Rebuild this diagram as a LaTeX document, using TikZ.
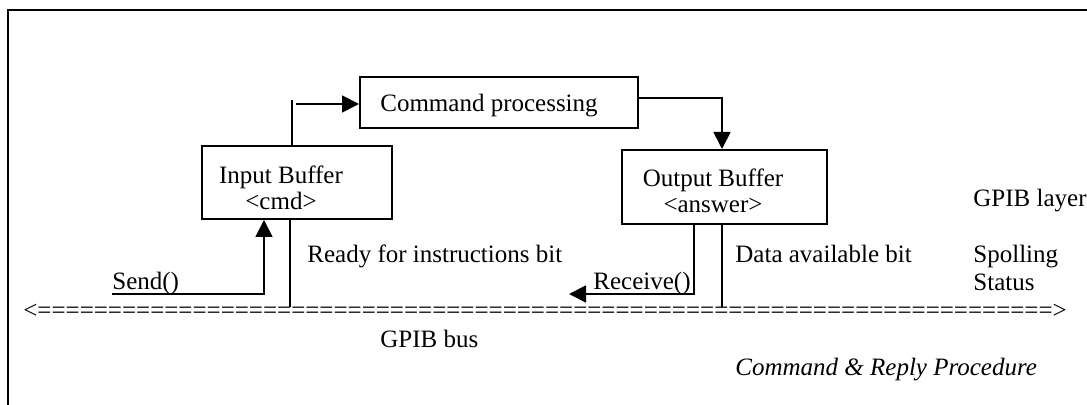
\documentclass[tikz,border=0pt]{standalone}
\usepackage{fontspec}
\setmainfont{Liberation Serif}
\usetikzlibrary{arrows.meta}
\begin{document}
\begin{tikzpicture}[x=0.5pt,y=-0.5pt,
  box/.style={draw,line width=1pt,inner sep=0pt,rectangle},
  txt/.style={inner sep=0pt,font=\fontsize{12.5pt}{13pt}\selectfont},
  ln/.style={line width=0.9pt},
  arr/.style={line width=0.9pt,-{Triangle[length=8.5pt,width=8.5pt]}}]
\useasboundingbox (0,0) rectangle (1087,405);
\draw[line width=0.8pt] (8,405) -- (8,10) -- (1087,10);

% boxes
\node[box,minimum width=95pt,minimum height=36.5pt] (inbuf) at (297,182.5) {};
\node[box,minimum width=139pt,minimum height=25.5pt] (cmdproc) at (499,102.5) {};
\node[box,minimum width=102.5pt,minimum height=37pt] (outbuf) at (724.5,187) {};

% box texts
\node[txt,align=center] (inbuftxt) at (281,188) {Input Buffer\\<cmd>};
\node[txt,anchor=base] (cmdtxt) at (489,112) {Command processing};
\node[txt,align=center] (outbuftxt) at (713,191) {Output Buffer\\<answer>};

% other labels
\node[txt,anchor=base west] (send) at (112,290) {Send()};
\node[txt,anchor=base west] (receive) at (593,290) {Receive()};
\node[txt,anchor=base west] (ready) at (307,263) {Ready for instructions bit};
\node[txt,anchor=base west] (data) at (735,263) {Data available bit};
\node[txt,anchor=base west,align=left] (spoll) at (973,263) {Spolling};
\node[txt,anchor=base west] (status) at (973,291) {Status};
\node[txt,anchor=base west] (layer) at (973,207) {GPIB layer};
\node[txt,anchor=base west] (busname) at (380,348) {GPIB bus};
\node[txt,anchor=base west,font=\fontsize{12.5pt}{13pt}\selectfont\itshape] (title) at (735,376) {Command \& Reply Procedure};
\node[txt,anchor=base west] (bus) at (23,319) {<========================================================================>};

% connector coordinates
\coordinate (up) at (292,100);
\coordinate (c1) at (296,104);
\coordinate (k) at (722,98);
\coordinate (rv) at (694,294);
\coordinate (rvend) at (569,294);
\coordinate (db) at (722,307);
\coordinate (sd0) at (112,294);
\coordinate (sd) at (264,294);
\coordinate (rd) at (290,307);

% connectors
\draw[ln] (up |- inbuf.north) -- (up);
\draw[arr] (c1) -- (c1 -| cmdproc.west);
\draw[arr] (k -| cmdproc.east) -- (k) -- (k |- outbuf.north);
\draw[arr] (rv |- outbuf.south) -- (rv) -- (rvend);
\draw[ln] (db |- outbuf.south) -- (db);
\draw[arr] (sd0) -- (sd) -- (sd |- inbuf.south);
\draw[ln] (rd |- inbuf.south) -- (rd);
\end{tikzpicture}
\end{document}
